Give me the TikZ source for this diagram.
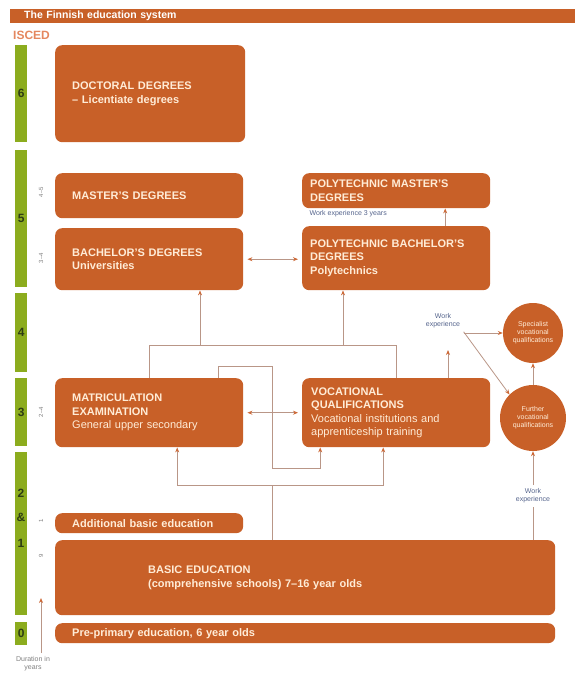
\documentclass[tikz,border=0pt]{standalone}
\usepackage{fontspec}
\setmainfont{Liberation Sans}
\usetikzlibrary{arrows.meta, positioning}
\definecolor{eduorange}{RGB}{200, 96, 40}
\definecolor{iscedgreen}{RGB}{140, 172, 30}
\definecolor{isceddark}{RGB}{45, 60, 20}
\definecolor{iscedtext}{RGB}{228, 135, 95}
\definecolor{boxtext}{RGB}{255, 236, 215}
\definecolor{linkgrey}{RGB}{185, 150, 135}
\definecolor{tipcolor}{RGB}{205, 105, 55}
\definecolor{notecolor}{RGB}{85, 100, 140}

\begin{document}
\begin{tikzpicture}[
    x=1pt, y=-1pt,
    edubox/.style={fill=eduorange, rounded corners=7pt, anchor=north west, inner ysep=0pt, align=left, text=boxtext, font=\bfseries\fontsize{11}{13.5}\selectfont},
    level/.style={fill=iscedgreen, anchor=north west, minimum width=12pt, inner sep=0pt, text=isceddark, font=\bfseries\fontsize{12}{12}\selectfont},
    levelnum/.style={text=isceddark, font=\bfseries\fontsize{12}{12}\selectfont},
    years/.style={rotate=90, text=gray, font=\fontsize{6}{6}\selectfont},
    quali/.style={circle, fill=eduorange, text=boxtext, align=center, inner sep=0pt, font=\fontsize{7}{8}\selectfont},
    note/.style={text=notecolor, align=center, font=\fontsize{7}{8}\selectfont},
    link/.style={draw=linkgrey, line width=0.8pt},
    arrow/.style={link, -{Stealth[length=5pt, width=4pt, color=tipcolor]}},
    both/.style={link, {Stealth[length=5pt, width=4pt, color=tipcolor]}-{Stealth[length=5pt, width=4pt, color=tipcolor]}, shorten >=4pt, shorten <=4pt}
]
    \useasboundingbox (0,0) rectangle (575,680);

    % Title
    \node[fill=eduorange, anchor=north west, minimum height=14pt, inner xsep=14pt, inner ysep=0pt, text width=537pt, text=white, font=\bfseries\fontsize{10.5}{11}\selectfont] (title) at (10,9) {The Finnish education system};
    \node[anchor=west, inner sep=0pt, text=iscedtext, font=\bfseries\fontsize{12}{12}\selectfont] (isced) at (13,35) {ISCED};

    % ISCED levels
    \node[level, minimum height=97pt] (lvl6) at (15,45) {6};
    \node[level, minimum height=137pt] (lvl5) at (15,150) {5};
    \node[level, minimum height=79pt] (lvl4) at (15,293) {4};
    \node[level, minimum height=68pt] (lvl3) at (15,378) {3};
    \node[level, minimum height=163pt] (lvl21) at (15,452) {};
    \node[levelnum] (num2) at (21,493) {2};
    \node[levelnum] (numand) at (21,517) {\&};
    \node[levelnum] (num1) at (21,543) {1};
    \node[level, minimum height=23pt] (lvl0) at (15,622) {0};

    % Durations
    \node[years] (yrsMaster) at (41,192) {4--5};
    \node[years] (yrsBachelor) at (41,258) {3--4};
    \node[years] (yrsMatric) at (41,412) {2--4};
    \node[years] (yrsAdd) at (41,521) {1};
    \node[years] (yrsBasic) at (41,556) {9};
    \node[note, text=gray] (dur) at (33,664) {Duration in\\years};
    \coordinate (durTop) at (41,598);

    % Universities
    \node[edubox, inner xsep=17pt, text width=156pt, minimum height=97pt] (doctoral) at (55,45) {DOCTORAL DEGREES\\-- Licentiate degrees};
    \node[edubox, inner xsep=17pt, text width=154pt, minimum height=45pt] (master) at (55,173) {MASTER'S DEGREES};
    \node[edubox, inner xsep=17pt, text width=154pt, minimum height=62pt] (bachelor) at (55,228) {BACHELOR'S DEGREES\\Universities};

    % Polytechnics
    \node[edubox, inner xsep=8pt, text width=172pt, minimum height=35pt] (polymaster) at (302,173) {POLYTECHNIC MASTER'S\\DEGREES};
    \node[note, anchor=west] (workThree) at (306,214) {Work experience 3 years};
    \node[edubox, inner xsep=8pt, text width=172pt, minimum height=64pt] (polybach) at (302,226) {POLYTECHNIC BACHELOR'S\\DEGREES\\Polytechnics};

    % Upper secondary
    \node[edubox, inner xsep=17pt, text width=154pt, minimum height=69pt] (matric) at (55,378) {MATRICULATION\\EXAMINATION\\\mdseries General upper secondary};
    \node[edubox, inner xsep=9pt, text width=170pt, minimum height=69pt] (voc) at (302,378) {VOCATIONAL\\QUALIFICATIONS\\\mdseries Vocational institutions and\\\mdseries apprenticeship training};

    % Vocational qualifications
    \node[quali, minimum size=60pt] (spec) at (533,333) {Specialist\\vocational\\qualifications};
    \node[quali, minimum size=66pt] (further) at (533,418) {Further\\vocational\\qualifications};
    \node[note] (workA) at (443,321) {Work\\experience};
    \node[note] (workB) at (533,496) {Work\\experience};
    \coordinate (workIn) at (448,350);

    % Basic education
    \node[edubox, inner xsep=17pt, text width=154pt, minimum height=20pt] (addbasic) at (55,513) {Additional basic education};
    \node[edubox, inner xsep=93pt, text width=314pt, minimum height=75pt] (basic) at (55,540) {BASIC EDUCATION\\(comprehensive schools) 7--16 year olds};
    \node[edubox, inner xsep=17pt, text width=466pt, minimum height=20pt] (preprimary) at (55,623) {Pre-primary education, 6 year olds};

    % Bus lines
    \coordinate (busUp) at (0,345);
    \coordinate (uniIn) at (200,345);
    \coordinate (polyIn) at (343,345);
    \coordinate (crossTop) at (272,366);
    \coordinate (crossLow) at (272,468);
    \coordinate (basicBus) at (272,485);

    % Connections
    \draw[link] (matric.north) |- (voc.north |- busUp) -- (voc.north);
    \draw[arrow] (uniIn) -- (uniIn |- bachelor.south);
    \draw[arrow] (polyIn) -- (polyIn |- polybach.south);
    \draw[arrow] ([xshift=69pt]matric.north) |- (crossTop) -- (crossLow) -| ([xshift=-76pt]voc.south);
    \draw[link] (basicBus |- basic.north) -- (basicBus);
    \draw[arrow] (basicBus) -| ([xshift=28pt]matric.south);
    \draw[arrow] (basicBus) -| ([xshift=-13pt]voc.south);

    \draw[both] (bachelor.east) -- (bachelor.east -| polybach.west);
    \draw[both] (matric.east) -- (voc.west);
    \draw[arrow] ([xshift=49pt]polybach.north) -- ([xshift=49pt]polymaster.south);

    \draw[arrow] (workIn |- voc.north) -- (workIn);
    \draw[arrow] (workA.east |- spec.west) -- (spec.west);
    \draw[arrow] (workA.south east) -- (further.north west);
    \draw[arrow] (further) -- (spec);
    \draw[link] (workB.south |- basic.north) -- (workB.south);
    \draw[arrow] (workB.north) -- (further.south);

    \draw[arrow] (dur.north -| durTop) -- (durTop);

\end{tikzpicture}
\end{document}
